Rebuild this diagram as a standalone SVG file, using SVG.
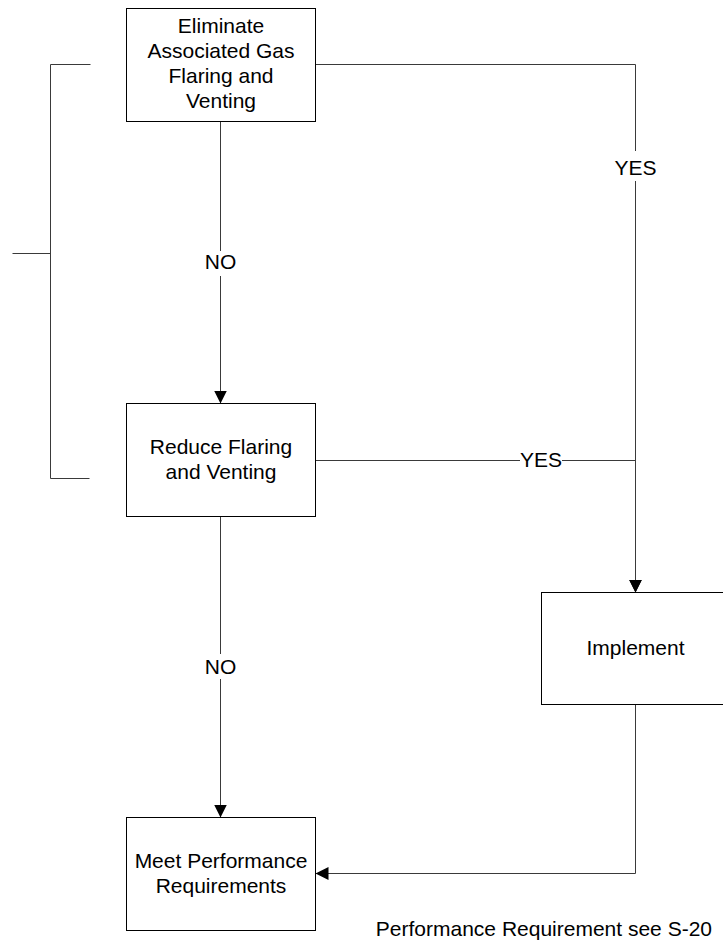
<svg xmlns="http://www.w3.org/2000/svg" width="723" height="940" viewBox="0 0 723 940">
<style>
.box{fill:#fff;stroke:#000;stroke-width:1}
.ln{fill:none;stroke:#3a3a3a;stroke-width:1}
.t{font-family:"Liberation Sans",Arial,sans-serif;font-size:21px;fill:#000;text-anchor:middle}
.bg{fill:#fff;stroke:none}
</style>
<defs>
<marker id="arr" markerUnits="userSpaceOnUse" markerWidth="14" markerHeight="14" refX="13" refY="6.5" orient="auto">
<path d="M0,0 L13,6.5 L0,13 Z" fill="#000"/>
</marker>
</defs>
<g id="connectors">
<path class="ln" d="M90.5,64.5 H50.5 V478.5 H89.5"/>
<path class="ln" d="M12.5,253.5 H50.5"/>
<path class="ln" d="M315.5,64.5 H635.5 V592.5" marker-end="url(#arr)"/>
<path class="ln" d="M315.5,460.5 H635.5 V592.5" marker-end="url(#arr)"/>
<path class="ln" d="M220.5,121.5 V403.5" marker-end="url(#arr)"/>
<path class="ln" d="M220.5,516.5 V817.5" marker-end="url(#arr)"/>
<path class="ln" d="M635.5,704.5 V873.5 H315.5" marker-end="url(#arr)"/>
<g id="lbl-no1"><rect class="bg" x="204" y="251" width="34" height="25"/><text class="t" x="220.5" y="269">NO</text></g>
<g id="lbl-no2"><rect class="bg" x="204" y="654" width="34" height="25"/><text class="t" x="220.5" y="674">NO</text></g>
<g id="lbl-yes1"><rect class="bg" x="614" y="151" width="43" height="30"/><text class="t" x="635.5" y="175">YES</text></g>
<g id="lbl-yes2"><rect class="bg" x="520" y="448" width="42" height="24"/><text class="t" x="541" y="467">YES</text></g>
</g>
<g id="n-eliminate">
<rect class="box" x="126.5" y="8.5" width="189" height="113"/>
<text class="t" x="221" y="33">Eliminate</text>
<text class="t" x="221" y="58">Associated Gas</text>
<text class="t" x="221" y="83">Flaring and</text>
<text class="t" x="221" y="108">Venting</text>
</g>
<g id="n-reduce">
<rect class="box" x="126.5" y="403.5" width="189" height="113"/>
<text class="t" x="221" y="454">Reduce Flaring</text>
<text class="t" x="221" y="479">and Venting</text>
</g>
<g id="n-implement">
<rect class="box" x="541.5" y="592.5" width="189" height="112"/>
<text class="t" x="635.5" y="655">Implement</text>
</g>
<g id="n-meet">
<rect class="box" x="126.5" y="817.5" width="189" height="113"/>
<text class="t" x="221" y="868">Meet Performance</text>
<text class="t" x="221" y="893">Requirements</text>
</g>
<g id="note">
<text class="t" x="712" y="936" style="text-anchor:end">Performance Requirement see S-20</text>
</g>
</svg>
